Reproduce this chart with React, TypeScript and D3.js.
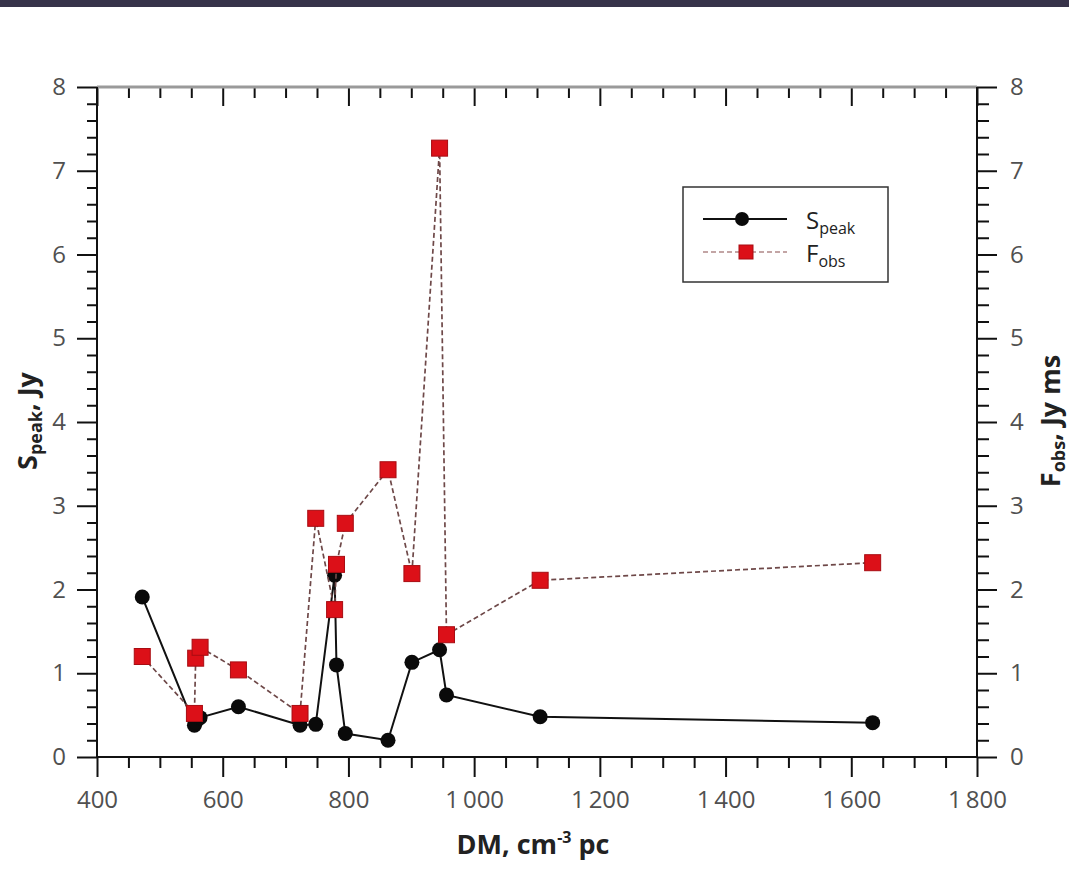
import React, { useEffect, useRef } from "react";
import * as d3 from "d3";

// Dispersion measure (cm^-3 pc) of each burst
const DM = [472, 555, 557, 564, 625, 723, 748, 778, 781, 795, 863, 901, 945, 956, 1105, 1634];
// Peak flux density S_peak, Jy
const SPEAK = [1.91, 0.38, 0.42, 0.47, 0.6, 0.38, 0.39, 2.17, 1.1, 0.28, 0.2, 1.13, 1.28, 0.74, 0.48, 0.41];
// Observed fluence F_obs, Jy ms
const FOBS = [1.2, 0.52, 1.18, 1.31, 1.04, 0.52, 2.85, 1.76, 2.3, 2.79, 3.43, 2.19, 7.27, 1.46, 2.11, 2.32];

const X_MAJOR = [400, 600, 800, 1000, 1200, 1400, 1600, 1800];
const Y_MAJOR = [0, 1, 2, 3, 4, 5, 6, 7, 8];

const W = 1069;
const H = 881;
const FONT = "'Open Sans', 'Noto Sans', sans-serif";

export default function App() {
  const ref = useRef<SVGSVGElement>(null);

  useEffect(() => {
    const svg = d3.select(ref.current);
    svg.selectAll("*").remove();

    const x = d3.scaleLinear().domain([400, 1800]).range([97, 977]);
    const y = d3.scaleLinear().domain([0, 8]).range([757, 87]);

    const fmt = d3.formatLocale({ decimal: ".", thousands: "\u2009", grouping: [3], currency: ["", ""] }).format(",");

    const xMinor = d3.range(400, 1801, 50).filter((v) => v % 200 !== 0);
    const yMinor = d3.range(0, 41).filter((i) => i % 5 !== 0).map((i) => i / 5);

    svg.append("rect").attr("x", 0).attr("y", 0).attr("width", W).attr("height", H).attr("fill", "#fff");
    svg.append("rect").attr("x", 0).attr("y", 0).attr("width", W).attr("height", 7).attr("fill", "#37334a");

    const style = (g: any, labels: boolean, color = "#111") => {
      g.select(".domain").remove();
      g.selectAll(".tick line").attr("stroke", color).attr("stroke-width", 2);
      g.selectAll(".tick text")
        .attr("fill", "#505050")
        .style("font-family", FONT)
        .style("font-size", "24px");
      if (!labels) g.selectAll(".tick text").remove();
    };

    // Bottom axis
    const gb = svg.append("g").attr("transform", `translate(0,${y(0)})`);
    gb.call(d3.axisBottom(x).tickValues(X_MAJOR).tickSize(20).tickPadding(14).tickFormat((d: any) => fmt(d)));
    style(gb, true);
    const gbm = svg.append("g").attr("transform", `translate(0,${y(0)})`);
    gbm.call(d3.axisBottom(x).tickValues(xMinor).tickSize(11).tickFormat(() => ""));
    style(gbm, false);

    // Top axis (ticks inward)
    const gt = svg.append("g").attr("transform", `translate(0,${y(8)})`);
    gt.call(d3.axisTop(x).tickValues(X_MAJOR).tickSize(-19).tickFormat(() => ""));
    style(gt, false);
    const gtm = svg.append("g").attr("transform", `translate(0,${y(8)})`);
    gtm.call(d3.axisTop(x).tickValues(xMinor).tickSize(-11).tickFormat(() => ""));
    style(gtm, false);

    // Left axis
    const gl = svg.append("g").attr("transform", `translate(${x(400)},0)`);
    gl.call(d3.axisLeft(y).tickValues(Y_MAJOR).tickSize(20).tickPadding(11).tickFormat(d3.format("d")));
    style(gl, true);
    const glm = svg.append("g").attr("transform", `translate(${x(400)},0)`);
    glm.call(d3.axisLeft(y).tickValues(yMinor).tickSize(10).tickFormat(() => ""));
    style(glm, false);

    // Right axis
    const gr = svg.append("g").attr("transform", `translate(${x(1800)},0)`);
    gr.call(d3.axisRight(y).tickValues(Y_MAJOR).tickSize(20).tickPadding(13).tickFormat(d3.format("d")));
    style(gr, true);
    const grm = svg.append("g").attr("transform", `translate(${x(1800)},0)`);
    grm.call(d3.axisRight(y).tickValues(yMinor).tickSize(12).tickFormat(() => ""));
    style(grm, false);

    // Frame lines
    svg.append("line").attr("x1", x(400)).attr("x2", x(1800)).attr("y1", y(8)).attr("y2", y(8))
      .attr("stroke", "#9a9a9a").attr("stroke-width", 3);
    svg.append("line").attr("x1", x(400) - 1).attr("x2", x(1800) + 1).attr("y1", y(0)).attr("y2", y(0))
      .attr("stroke", "#111").attr("stroke-width", 2);
    svg.append("line").attr("x1", x(400)).attr("x2", x(400)).attr("y1", y(8)).attr("y2", y(0))
      .attr("stroke", "#111").attr("stroke-width", 2);
    svg.append("line").attr("x1", x(1800)).attr("x2", x(1800)).attr("y1", y(8)).attr("y2", y(0))
      .attr("stroke", "#111").attr("stroke-width", 2);

    const idx = d3.range(DM.length);

    // S_peak series
    const lineS = d3.line<number>().x((i) => x(DM[i])).y((i) => y(SPEAK[i]));
    svg.append("path").attr("d", lineS(idx)).attr("fill", "none").attr("stroke", "#111").attr("stroke-width", 2);
    svg.append("g").selectAll("circle").data(idx).join("circle")
      .attr("cx", (i) => x(DM[i])).attr("cy", (i) => y(SPEAK[i])).attr("r", 7.5).attr("fill", "#0a0a0a");

    // F_obs series
    const lineF = d3.line<number>().x((i) => x(DM[i])).y((i) => y(FOBS[i]));
    svg.append("path").attr("d", lineF(idx)).attr("fill", "none").attr("stroke", "#6e4848")
      .attr("stroke-width", 1.7).attr("stroke-dasharray", "5,3");
    svg.append("g").selectAll("rect").data(idx).join("rect")
      .attr("x", (i) => x(DM[i]) - 8).attr("y", (i) => y(FOBS[i]) - 8).attr("width", 16).attr("height", 16)
      .attr("fill", "#dc1018").attr("stroke", "#a80c12").attr("stroke-width", 1);

    // Legend
    const lg = svg.append("g");
    lg.append("rect").attr("x", 683).attr("y", 187).attr("width", 205).attr("height", 95)
      .attr("fill", "#fff").attr("stroke", "#333").attr("stroke-width", 1.5);
    lg.append("line").attr("x1", 703).attr("x2", 787).attr("y1", 219).attr("y2", 219).attr("stroke", "#111").attr("stroke-width", 2);
    lg.append("circle").attr("cx", 742).attr("cy", 219).attr("r", 7).attr("fill", "#0a0a0a");
    lg.append("line").attr("x1", 703).attr("x2", 787).attr("y1", 252).attr("y2", 252).attr("stroke", "#b08888")
      .attr("stroke-width", 1.7).attr("stroke-dasharray", "5,3");
    lg.append("rect").attr("x", 739).attr("y", 245).attr("width", 14).attr("height", 14)
      .attr("fill", "#dc1018").attr("stroke", "#a80c12");

    const subText = (g: any, tx: number, ty: number, main: string, sub: string, rest: string, size: number, subSize: number, weight: string, anchor = "start") => {
      const t = g.append("text").attr("x", tx).attr("y", ty).attr("text-anchor", anchor)
        .style("font-family", FONT).style("font-size", `${size}px`).style("font-weight", weight).attr("fill", "#222");
      t.append("tspan").text(main);
      t.append("tspan").attr("dy", size * 0.2).style("font-size", `${subSize}px`).text(sub);
      if (rest) t.append("tspan").attr("dy", -size * 0.2).text(rest);
      return t;
    };
    subText(lg, 806, 229, "S", "peak", "", 24, 16, "normal");
    subText(lg, 806, 262, "F", "obs", "", 24, 16, "normal");

    // Axis titles
    const xt = svg.append("text").attr("x", 533).attr("y", 854).attr("text-anchor", "middle")
      .style("font-family", FONT).style("font-size", "27px").style("font-weight", "bold").attr("fill", "#222");
    xt.append("tspan").text("DM, cm");
    xt.append("tspan").attr("dy", -11).style("font-size", "16px").text("-3");
    xt.append("tspan").attr("dy", 11).text(" pc");

    const ylg = svg.append("g").attr("transform", "translate(37,421) rotate(-90)");
    subText(ylg, 0, 0, "S", "peak", ", Jy", 27, 18, "bold", "middle");
    const yrg = svg.append("g").attr("transform", "translate(1060,421) rotate(-90)");
    subText(yrg, 0, 0, "F", "obs", ", Jy ms", 27, 18, "bold", "middle");
  }, []);

  return <svg ref={ref} width={W} height={H} style={{ position: "absolute", left: 0, top: 0, display: "block" }} />;
}
